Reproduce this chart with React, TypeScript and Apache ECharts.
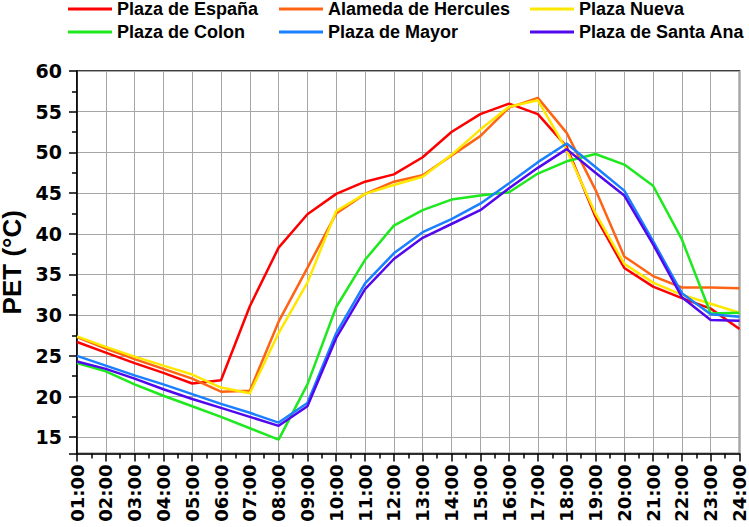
import React, { useEffect, useRef } from "react";
import * as echarts from "echarts";

const hours = [
  "01:00", "02:00", "03:00", "04:00", "05:00", "06:00", "07:00", "08:00",
  "09:00", "10:00", "11:00", "12:00", "13:00", "14:00", "15:00", "16:00",
  "17:00", "18:00", "19:00", "20:00", "21:00", "22:00", "23:00", "24:00",
];

const plazaEspana = [26.7, 25.4, 24.1, 22.9, 21.6, 22.0, 31.1, 38.3, 42.4, 44.9, 46.4, 47.3, 49.4, 52.5, 54.7, 56.0, 54.7, 50.7, 42.1, 35.8, 33.5, 32.1, 30.8, 28.3];
const alamedaHercules = [27.3, 25.9, 24.6, 23.4, 22.2, 20.6, 20.7, 29.2, 35.8, 42.5, 44.9, 46.4, 47.2, 49.6, 52.0, 55.5, 56.7, 52.4, 45.4, 37.2, 34.8, 33.4, 33.4, 33.3];
const plazaNueva = [27.4, 26.1, 24.9, 23.8, 22.7, 21.1, 20.4, 27.8, 34.0, 42.8, 44.9, 46.0, 47.0, 49.7, 52.8, 55.6, 56.4, 50.3, 42.5, 36.3, 34.0, 32.5, 31.4, 30.3];
const plazaColon = [24.1, 23.1, 21.5, 20.1, 18.8, 17.5, 16.1, 14.7, 21.5, 31.0, 36.8, 41.0, 42.9, 44.2, 44.7, 45.1, 47.4, 48.9, 49.8, 48.5, 45.9, 39.3, 30.2, 30.3];
const plazaMayor = [25.0, 23.8, 22.6, 21.5, 20.3, 19.1, 18.0, 16.8, 19.2, 27.8, 33.9, 37.6, 40.2, 41.8, 43.7, 46.2, 48.8, 51.1, 48.2, 45.3, 39.1, 32.7, 30.1, 29.8];
const plazaSantaAna = [24.3, 23.4, 22.2, 20.9, 19.7, 18.6, 17.5, 16.4, 18.8, 27.2, 33.2, 36.9, 39.5, 41.2, 42.9, 45.6, 48.1, 50.4, 47.5, 44.7, 38.7, 32.2, 29.4, 29.3];

const seriesNames = [
  "Plaza de España",
  "Alameda de Hercules",
  "Plaza Nueva",
  "Plaza de Colon",
  "Plaza de Mayor",
  "Plaza de Santa Ana",
];
const seriesData = [plazaEspana, alamedaHercules, plazaNueva, plazaColon, plazaMayor, plazaSantaAna];
const seriesColors = ["#ff0000", "#ff6414", "#ffe800", "#1ee81e", "#1a80ff", "#5208ee"];

const yMin = 13;
const yMax = 60;

export default function App() {
  const ref = useRef<HTMLDivElement>(null);

  useEffect(() => {
    if (!ref.current) return;
    const chart = echarts.init(ref.current, null, { renderer: "svg" });

    const legendText = {
      fontFamily: "Liberation Sans, Arial, sans-serif",
      fontWeight: "bold",
      fontSize: 18,
      lineHeight: 18,
      color: "#000",
    };
    const legendBase = {
      orient: "vertical",
      top: 0,
      padding: 0,
      itemGap: 5,
      icon: "rect",
      itemWidth: 44,
      itemHeight: 3,
      textStyle: legendText,
    };

    const option: any = {
      animation: false,
      backgroundColor: "#fff",
      legend: [
        { ...legendBase, left: 68, data: [seriesNames[0], seriesNames[3]] },
        { ...legendBase, left: 279, data: [seriesNames[1], seriesNames[4]] },
        { ...legendBase, left: 530, data: [seriesNames[2], seriesNames[5]] },
      ],
      grid: {
        left: 77,
        right: 9.5,
        top: 71,
        bottom: 73.5,
        outerBoundsMode: "none",
        containLabel: false,
        show: true,
        borderColor: "#000",
        borderWidth: 1.5,
        backgroundColor: "transparent",
      },
      xAxis: [
        {
          type: "category",
          data: hours,
          boundaryGap: false,
          position: "bottom",
          axisLine: { show: true, lineStyle: { color: "#000", width: 1.5 } },
          axisTick: { show: true, length: 8, interval: 0, lineStyle: { color: "#000", width: 1.5 } },
          axisLabel: {
            interval: 0,
            rotate: 90,
            margin: 11,
            color: "#000",
            fontFamily: "DejaVu Sans, sans-serif",
            fontWeight: "bold",
            fontSize: 18,
          },
          splitLine: { show: true, interval: 0, lineStyle: { color: "#a6a6a6", width: 1 } },
        },
        {
          type: "value",
          min: 0,
          max: hours.length - 1,
          interval: 1,
          position: "bottom",
          axisLine: { show: false },
          axisTick: { show: false },
          axisLabel: { show: false },
          splitLine: { show: false },
          minorTick: { show: true, splitNumber: 2, length: 5, lineStyle: { color: "#000", width: 1.5 } },
        },
      ],
      yAxis: {
        type: "value",
        min: yMin,
        max: yMax,
        splitNumber: 9,
        name: "PET (°C)",
        nameLocation: "middle",
        nameRotate: 90,
        nameGap: 47,
        nameTextStyle: {
          fontFamily: "Liberation Sans, Arial, sans-serif",
          fontWeight: "bold",
          fontSize: 26,
          color: "#000",
        },
        axisLine: { show: true, lineStyle: { color: "#000", width: 1.5 } },
        axisTick: { show: true, length: 8, lineStyle: { color: "#000", width: 1.5 } },
        minorTick: { show: true, splitNumber: 2, length: 5, lineStyle: { color: "#000", width: 1.5 } },
        axisLabel: {
          margin: 15,
          color: "#000",
          fontFamily: "DejaVu Sans, sans-serif",
          fontWeight: "bold",
          fontSize: 19,
          formatter: (v: number) => (v % 5 === 0 ? String(v) : ""),
        },
        splitLine: { show: true, lineStyle: { color: "#a6a6a6", width: 1 } },
      },
      series: seriesNames.map((name, i) => ({
        name,
        type: "line",
        xAxisIndex: 0,
        data: seriesData[i],
        symbol: "none",
        color: seriesColors[i],
        lineStyle: { width: 2.5, color: seriesColors[i] },
      })),
    };

    chart.setOption(option);
    return () => chart.dispose();
  }, []);

  return <div ref={ref} style={{ width: 749, height: 527, position: "absolute", left: 0, top: 0 }} />;
}
